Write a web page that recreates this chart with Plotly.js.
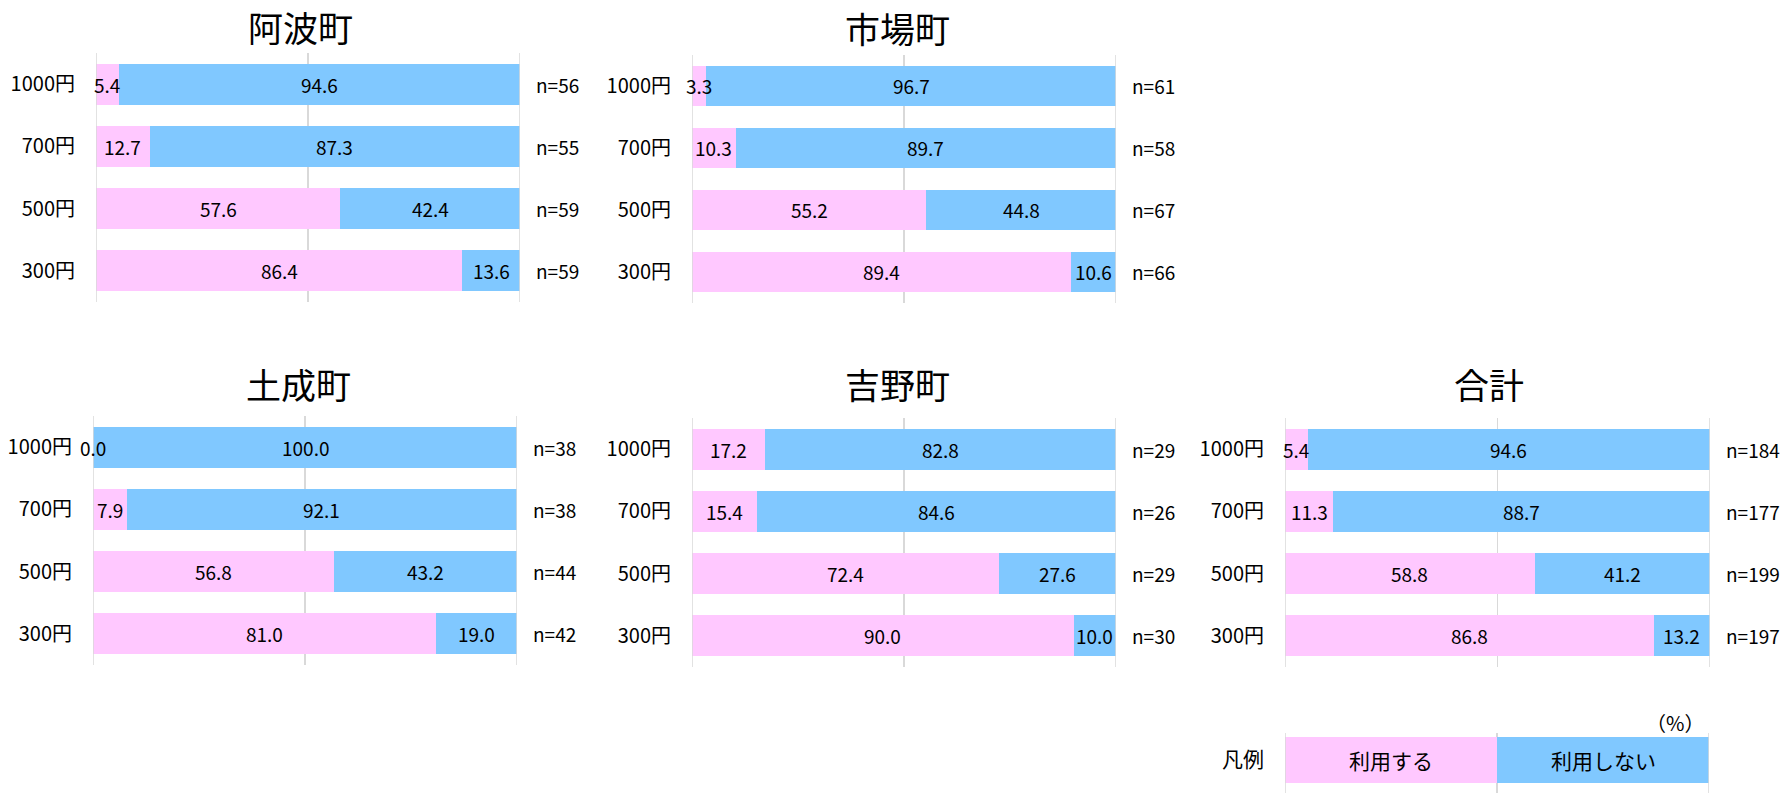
<!DOCTYPE html>
<html>
<head>
<meta charset="utf-8">
<script src="https://cdn.plot.ly/plotly-3.0.1.min.js"></script>
<style>
  html, body { margin: 0; padding: 0; background: #fff; }
  #chart { width: 1787px; height: 793px; }
</style>
</head>
<body>
<div id="chart"></div>
<script>
// Fare levels (top to bottom) and the towns surveyed
const prices = ['1000円', '700円', '500円', '300円'];
const towns = ['阿波町', '市場町', '土成町', '吉野町', '合計'];

// Share (%) who would use the service at each fare
const useAwa     = [5.4, 12.7, 57.6, 86.4];
const useIchiba  = [3.3, 10.3, 55.2, 89.4];
const useDonari  = [0.0, 7.9, 56.8, 81.0];
const useYoshino = [17.2, 15.4, 72.4, 90.0];
const useTotal   = [5.4, 11.3, 58.8, 86.8];

// Share (%) who would not use it
const notAwa     = [94.6, 87.3, 42.4, 13.6];
const notIchiba  = [96.7, 89.7, 44.8, 10.6];
const notDonari  = [100.0, 92.1, 43.2, 19.0];
const notYoshino = [82.8, 84.6, 27.6, 10.0];
const notTotal   = [94.6, 88.7, 41.2, 13.2];

// Respondents per fare
const nAwa     = [56, 55, 59, 59];
const nIchiba  = [61, 58, 67, 66];
const nDonari  = [38, 38, 44, 42];
const nYoshino = [29, 26, 29, 30];
const nTotal   = [184, 177, 199, 197];

// Legend
const legendTitle = '凡例';
const legendLabels = ['利用する', '利用しない'];
const legendShares = [50, 50];
const unitLabel = '（%）';

const useSeries = [useAwa, useIchiba, useDonari, useYoshino, useTotal];
const notSeries = [notAwa, notIchiba, notDonari, notYoshino, notTotal];
const nSeries = [nAwa, nIchiba, nDonari, nYoshino, nTotal];

const W = 1787, H = 793;
const PINK = 'rgb(255,200,255)';
const BLUE = 'rgb(128,200,255)';
const GRID = '#d9d9d9';
const FONT = '"Noto Sans CJK JP", "Noto Sans", sans-serif';
const LABEL_SIZE = 19;
const TICK_SIZE = 20;

// Panel boxes in pixels: [left, right, top, bottom], plus title centre
const panels = [
  { box: [96, 520, 53, 302],     title: [300, 27] },
  { box: [692, 1116, 55, 303],   title: [898, 28] },
  { box: [93, 517, 416, 665],    title: [298, 383] },
  { box: [692, 1116, 418, 667],  title: [898, 383] },
  { box: [1285, 1710, 418, 667], title: [1489, 383] }
];
const legendBox = [1285, 1709, 733, 793];

const px = v => v / W;
const py = v => 1 - v / H;

const data = [];
const annotations = [];
const shapes = [];
const layout = {
  width: W, height: H,
  margin: { l: 0, r: 0, t: 0, b: 0 },
  paper_bgcolor: '#fff',
  plot_bgcolor: '#fff',
  barmode: 'stack',
  bargap: 0.34,
  showlegend: false,
  font: { family: FONT, size: LABEL_SIZE, color: '#000' }
};

function axisPair(idx, box, cats, yrange) {
  const xa = idx === 1 ? 'xaxis' : 'xaxis' + idx;
  const ya = idx === 1 ? 'yaxis' : 'yaxis' + idx;
  layout[xa] = {
    domain: [px(box[0]), px(box[1])],
    anchor: 'y' + idx,
    range: [0, 100],
    tickmode: 'linear', tick0: 0, dtick: 50,
    showgrid: true, gridcolor: GRID, gridwidth: 1.5,
    zeroline: false, showline: false,
    showticklabels: false, ticks: '',
    fixedrange: true
  };
  layout[ya] = {
    domain: [py(box[3]), py(box[2])],
    anchor: 'x' + idx,
    type: 'category',
    categoryorder: 'array', categoryarray: cats,
    range: yrange,
    showgrid: false, zeroline: false, showline: false,
    ticks: '', ticklabelstandoff: 20,
    tickfont: { family: FONT, size: TICK_SIZE, color: '#000' },
    fixedrange: true
  };
  // outer gridlines at 0 % and 100 %, which sit on the plot edges
  [0, 100].forEach(v => shapes.push({
    type: 'line', layer: 'above',
    xref: 'x' + idx, yref: 'y' + idx + ' domain',
    x0: v, x1: v, y0: 0, y1: 1,
    line: { color: GRID, width: 1.5 }
  }));
}

panels.forEach((p, i) => {
  const idx = i + 1;
  const xr = 'x' + idx, yr = 'y' + idx;
  axisPair(idx, p.box, prices, [3.5, -0.5]);

  const use = useSeries[i], not = notSeries[i], n = nSeries[i];
  data.push({
    type: 'bar', orientation: 'h', x: use, y: prices,
    xaxis: xr, yaxis: yr, marker: { color: PINK }, hoverinfo: 'skip'
  });
  data.push({
    type: 'bar', orientation: 'h', x: not, y: prices,
    xaxis: xr, yaxis: yr, marker: { color: BLUE }, hoverinfo: 'skip'
  });

  prices.forEach((c, k) => {
    annotations.push({
      xref: xr, yref: yr, x: use[k] / 2, y: c,
      text: use[k].toFixed(1), showarrow: false,
      font: { family: FONT, size: LABEL_SIZE, color: '#000' }
    });
    annotations.push({
      xref: xr, yref: yr, x: use[k] + not[k] / 2, y: c,
      text: not[k].toFixed(1), showarrow: false,
      font: { family: FONT, size: LABEL_SIZE, color: '#000' }
    });
    annotations.push({
      xref: xr, yref: yr, x: 100, y: c, xanchor: 'left', xshift: 14,
      text: 'n=' + n[k], showarrow: false,
      font: { family: FONT, size: LABEL_SIZE, color: '#000' }
    });
  });

  annotations.push({
    xref: 'paper', yref: 'paper',
    x: px(p.title[0]), y: py(p.title[1]),
    xanchor: 'center', yanchor: 'middle',
    text: towns[i], showarrow: false,
    font: { family: FONT, size: 35, color: '#000' }
  });
});

// Legend strip drawn as one more stacked bar
const li = panels.length + 1;
axisPair(li, legendBox, [legendTitle], [-0.55, 0.45]);
layout['yaxis' + li].tickfont = { family: FONT, size: 21, color: '#000' };
let acc = 0;
legendLabels.forEach((lab, k) => {
  data.push({
    type: 'bar', orientation: 'h', x: [legendShares[k]], y: [legendTitle],
    xaxis: 'x' + li, yaxis: 'y' + li, width: 0.77,
    marker: { color: k === 0 ? PINK : BLUE }, hoverinfo: 'skip'
  });
  annotations.push({
    xref: 'x' + li, yref: 'y' + li, x: acc + legendShares[k] / 2, y: legendTitle,
    text: lab, showarrow: false,
    font: { family: FONT, size: 21, color: '#000' }
  });
  acc += legendShares[k];
});
annotations.push({
  xref: 'paper', yref: 'paper', x: px(1706), y: py(722),
  xanchor: 'right', yanchor: 'middle',
  text: unitLabel, showarrow: false,
  font: { family: FONT, size: 20, color: '#000' }
});

layout.annotations = annotations;
layout.shapes = shapes;

Plotly.newPlot('chart', data, layout, { staticPlot: true, displayModeBar: false });
</script>
</body>
</html>
